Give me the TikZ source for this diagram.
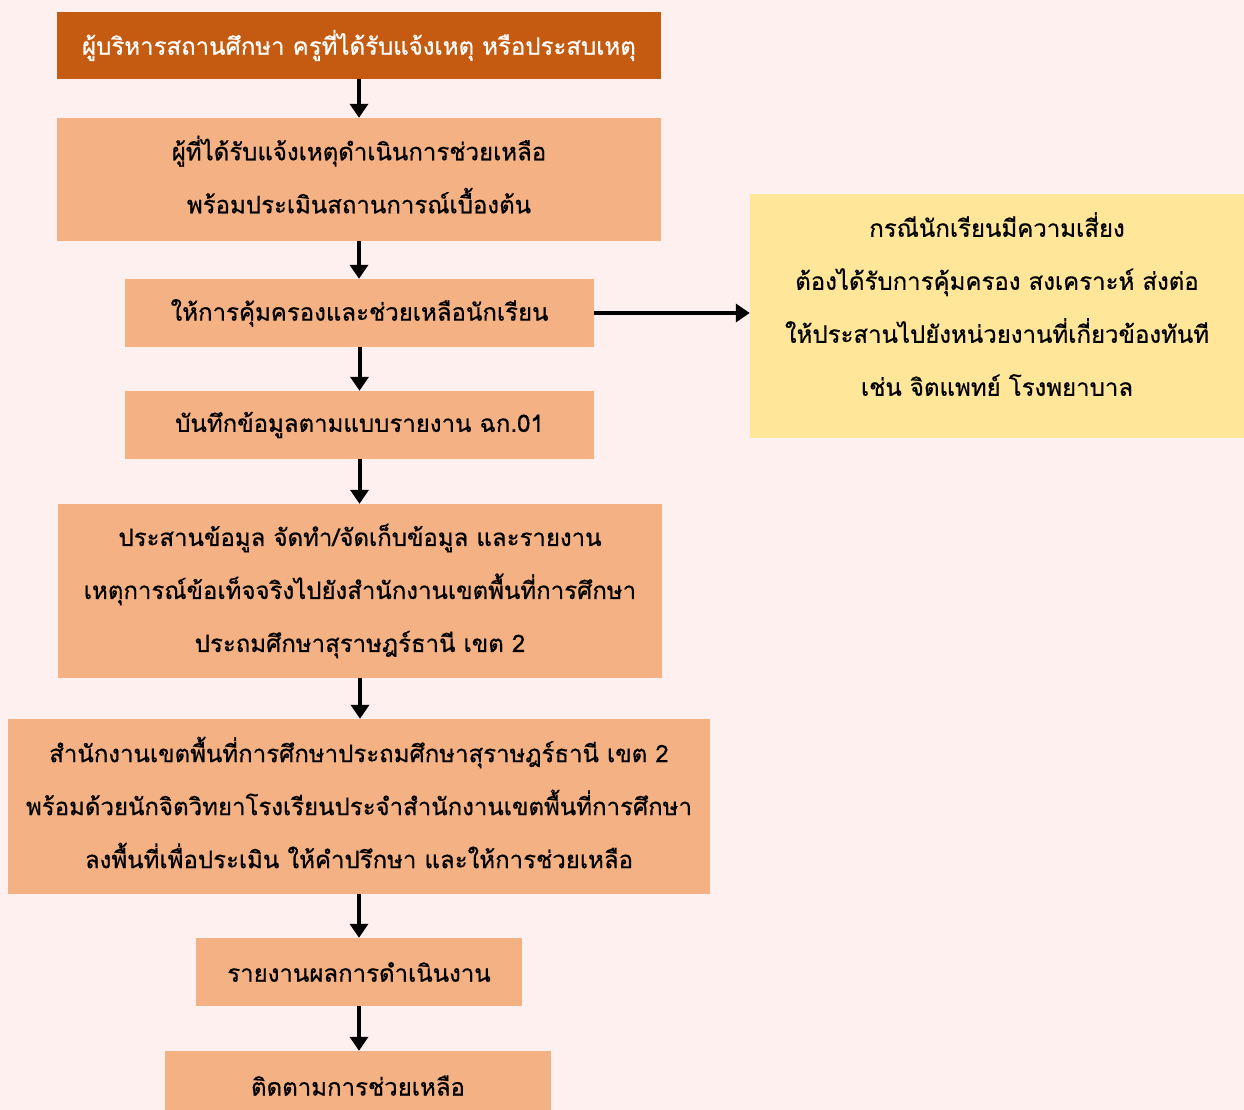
\documentclass[tikz,border=0pt]{standalone}
\usepackage{fontspec}
\newfontfamily\thaifont[Script=Thai,FakeBold=0.6]{Loma}
\usetikzlibrary{arrows.meta}
\definecolor{bgpink}{HTML}{FFF0F0}
\definecolor{darkor}{HTML}{C55A11}
\definecolor{lightor}{HTML}{F4B183}
\definecolor{lightyel}{HTML}{FFE699}
\begin{document}
\begin{tikzpicture}[x=1pt,y=-1pt,
  txt/.style={inner sep=0pt, align=center,
    font=\thaifont\fontsize{24}{53}\selectfont, text=black},
  box/.style={rectangle, fill=lightor, txt},
  topbox/.style={box, fill=darkor, text=white},
  yelbox/.style={box, fill=lightyel},
  flow/.style={line width=4pt, -{Triangle[length=14pt,width=18pt]}}]
\fill[bgpink] (0,0) rectangle (1244,1110);
\useasboundingbox (0,0) rectangle (1244,1110);
\node[topbox, minimum width=604pt, minimum height=67pt] (b1) at (359,45.5)
  {ผู้บริหารสถานศึกษา ครูที่ได้รับแจ้งเหตุ หรือประสบเหตุ};
\node[box, minimum width=604pt, minimum height=123pt,
  label={[txt, yshift=5pt, name=b2t]center:{ผู้ที่ได้รับแจ้งเหตุดำเนินการช่วยเหลือ\\พร้อมประเมินสถานการณ์เบื้องต้น}}] (b2) at (359,179.5) {};
\node[box, minimum width=469pt, minimum height=68pt] (b3) at (359.5,313)
  {ให้การคุ้มครองและช่วยเหลือนักเรียน};
\node[box, minimum width=469pt, minimum height=68pt] (b4) at (359.5,425)
  {บันทึกข้อมูลตามแบบรายงาน ฉก.01};
\node[box, minimum width=604pt, minimum height=174pt] (b5) at (360,591)
  {ประสานข้อมูล จัดทำ/จัดเก็บข้อมูล และรายงาน\\เหตุการณ์ข้อเท็จจริงไปยังสำนักงานเขตพื้นที่การศึกษา\\ประถมศึกษาสุราษฎร์ธานี เขต 2};
\node[box, minimum width=702pt, minimum height=175pt,
  label={[txt, yshift=4pt, name=b6t]center:{สำนักงานเขตพื้นที่การศึกษาประถมศึกษาสุราษฎร์ธานี เขต 2\\พร้อมด้วยนักจิตวิทยาโรงเรียนประจำสำนักงานเขตพื้นที่การศึกษา\\ลงพื้นที่เพื่อประเมิน ให้คำปรึกษา และให้การช่วยเหลือ}}] (b6) at (359,806.5) {};
\node[box, minimum width=326pt, minimum height=68pt] (b7) at (359,972)
  {รายงานผลการดำเนินงาน};
\node[box, minimum width=386pt, minimum height=69pt] (b8) at (358,1085.5)
  {ติดตามการช่วยเหลือ};
\node[yelbox, minimum width=494pt, minimum height=244pt,
  label={[txt, yshift=12pt, name=yt]center:{กรณีนักเรียนมีความเสี่ยง\\ต้องได้รับการคุ้มครอง สงเคราะห์ ส่งต่อ\\ให้ประสานไปยังหน่วยงานที่เกี่ยวข้องทันที\\เช่น จิตแพทย์ โรงพยาบาล}}] (y) at (997,316) {};
\draw[flow] (b1.south) -- (b1.south |- b2.north);
\draw[flow] (b2.south) -- (b2.south |- b3.north);
\draw[flow] (b3.south) -- (b3.south |- b4.north);
\draw[flow] (b4.south) -- (b4.south |- b5.north);
\draw[flow] (b5.south) -- (b5.south |- b6.north);
\draw[flow] (b6.south) -- (b6.south |- b7.north);
\draw[flow] (b7.south) -- (b7.south |- b8.north);
\draw[flow] (b3.east) -- (b3.east -| y.west);
\end{tikzpicture}
\end{document}
